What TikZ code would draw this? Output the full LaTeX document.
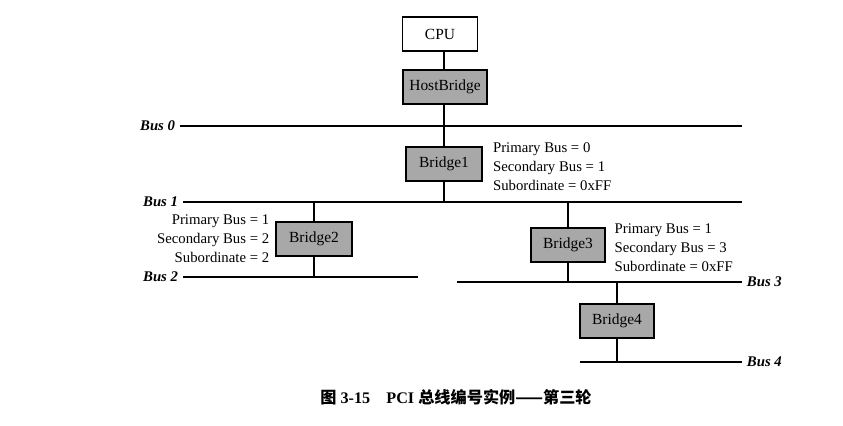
\documentclass[tikz,border=0pt]{standalone}
\usepackage{fontspec}
\setmainfont{Liberation Serif}
\newfontfamily\cjk{Noto Sans CJK SC}
\usetikzlibrary{positioning}
\definecolor{bridgegray}{RGB}{168,168,168}

\begin{document}
\begin{tikzpicture}[x=0.025cm, y=-0.025cm, font=\fontsize{10.5}{13.5}\selectfont,
  bus/.style={line width=1.3pt},
  link/.style={line width=1.2pt},
  bridge/.style={draw, line width=1.3pt, fill=bridgegray, minimum width=1.9cm, minimum height=0.85cm, inner sep=2pt, font=\fontsize{11}{13}\selectfont},
  buslabel/.style={font=\fontsize{10.5}{13.5}\selectfont\bfseries\itshape},
  info/.style={inner sep=0pt}]
  \useasboundingbox (0,0) rectangle (843,426);

  % CPU and host bridge
  \node[bridge, fill=white, minimum width=1.875cm] (cpu) at (440,34) {CPU};
  \node[bridge, minimum width=2.1cm] (hostbr) at (445,87) {HostBridge};

  % buses
  \coordinate (b0w) at (180,126); \coordinate (b0e) at (742,126);
  \coordinate (b1w) at (183,202); \coordinate (b1e) at (742,202);
  \coordinate (b2w) at (183,277); \coordinate (b2e) at (418,277);
  \coordinate (b3w) at (457,282); \coordinate (b3e) at (742,282);
  \coordinate (b4w) at (580,362); \coordinate (b4e) at (742,362);
  \draw[bus] (b0w) -- (b0e);
  \draw[bus] (b1w) -- (b1e);
  \draw[bus] (b2w) -- (b2e);
  \draw[bus] (b3w) -- (b3e);
  \draw[bus] (b4w) -- (b4e);
  \node[buslabel, left] (lb0) at (b0w) {Bus 0};
  \node[buslabel, left] (lb1) at (b1w) {Bus 1};
  \node[buslabel, left] (lb2) at (b2w) {Bus 2};
  \node[buslabel, right] (lb3) at (b3e) {Bus 3};
  \node[buslabel, right] (lb4) at (b4e) {Bus 4};

  % bridges
  \node[bridge] (br1) at (444,164) {Bridge1};
  \node[bridge] (br2) at (314,239) {Bridge2};
  \node[bridge, minimum width=1.85cm] (br3) at (568,245) {Bridge3};
  \node[bridge, minimum width=1.85cm] (br4) at (617,321) {Bridge4};

  \node[info, align=left, right=7pt of br1, yshift=-2pt] (inf1) {Primary Bus = 0\\Secondary Bus = 1\\Subordinate = 0xFF};
  \node[info, align=right, left=4pt of br2] (inf2) {Primary Bus = 1\\Secondary Bus = 2\\Subordinate = 2};
  \node[info, align=left, right=6pt of br3, yshift=-2pt] (inf3) {Primary Bus = 1\\Secondary Bus = 3\\Subordinate = 0xFF};

  % links
  \draw[link] (cpu.south -| br1) -- (hostbr.north -| br1);
  \draw[link] (hostbr.south -| br1) -- (br1.north);
  \draw[link] (br1.south) -- (br1.south |- b1w);
  \draw[link] (br2.north) -- (br2.north |- b1w);
  \draw[link] (br2.south) -- (br2.south |- b2w);
  \draw[link] (br3.north) -- (br3.north |- b1w);
  \draw[link] (br3.south) -- (br3.south |- b3w);
  \draw[link] (br4.north) -- (br4.north |- b3w);
  \draw[link] (br4.south) -- (br4.south |- b4w);

  % caption
  \node[font=\fontsize{11.5}{13}\selectfont\bfseries] (cap) at (456,397) {{\cjk 图} 3-15\quad PCI {\cjk 总线编号实例——第三轮}};
\end{tikzpicture}
\end{document}
